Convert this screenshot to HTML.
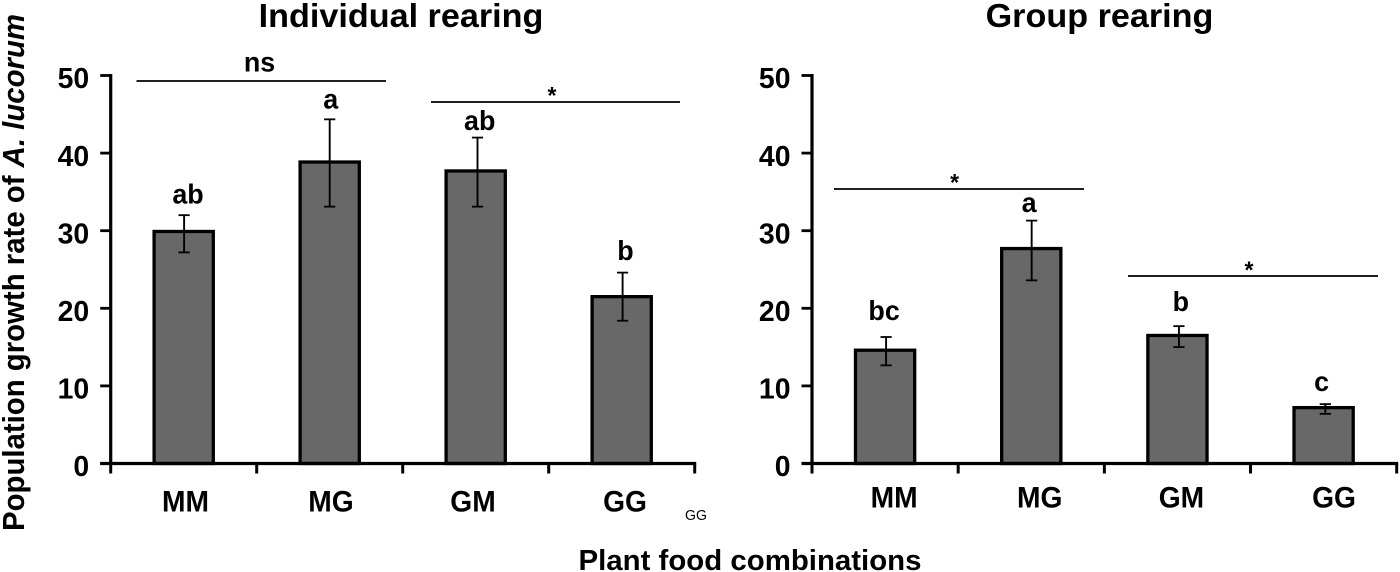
<!DOCTYPE html>
<html lang="en">
<head>
<meta charset="utf-8">
<title>Population growth rate of A. lucorum</title>
<style>
html,body{margin:0;padding:0;background:#fff}
svg{display:block;font-family:"Liberation Sans",Arial,sans-serif;font-weight:bold;fill:#000}
</style>
</head>
<body>
<svg id="chart" width="1400" height="572" viewBox="0 0 1400 572" xmlns="http://www.w3.org/2000/svg">
  <text transform="translate(24,531) rotate(-90)" font-size="31" textLength="517" lengthAdjust="spacingAndGlyphs">Population growth rate of <tspan font-style="italic">A. lucorum</tspan></text>
  <text x="750" y="570" font-size="28.5" text-anchor="middle" textLength="343" lengthAdjust="spacingAndGlyphs">Plant food combinations</text>
  <text x="685" y="520" font-size="15" font-weight="normal" textLength="22" lengthAdjust="spacingAndGlyphs">GG</text>
</svg>
<script>
const categories = ['MM', 'MG', 'GM', 'GG'];
const yTicks = [0, 10, 20, 30, 40, 50];

const individualValues = [29.9, 38.85, 37.7, 21.5];
const individualErrLow = [27.2, 33.1, 33.1, 18.4];
const individualErrHigh = [32.0, 44.35, 42.0, 24.6];
const individualLetters = ['ab', 'a', 'ab', 'b'];

const groupValues = [14.6, 27.7, 16.5, 7.2];
const groupErrLow = [12.65, 23.6, 15.0, 6.4];
const groupErrHigh = [16.3, 31.3, 17.7, 7.65];
const groupLetters = ['bc', 'a', 'b', 'c'];

const NS = 'http://www.w3.org/2000/svg';
const svg = document.getElementById('chart');

function make(tag, attrs, parent, name) {
  const el = document.createElementNS(NS, tag);
  for (const k in attrs) el.setAttribute(k, attrs[k]);
  
  
  parent.appendChild(el);
  return el;
}
function label(parent, name, str, x, y, size, sx) {
  const t = make('text', {
    transform: 'translate(' + x + ',' + y + ') scale(' + sx + ',1)',
    'font-size': size,
    'text-anchor': 'middle'
  }, parent, name);
  t.textContent = str;
  return t;
}

function drawPanel(p) {
  const g = make('g', {}, svg, p.key + '-panel');
  const Y0 = 463.5, YTOP = 75.5;
  const yScale = v => Y0 - (v / 50) * (Y0 - YTOP);
  const slot = (p.xEnd - p.xStart) / categories.length;
  const xCenter = i => p.xStart + slot * (i + 0.5);
  const BW = 59.2;

  label(g, p.key + '-title', p.title, p.titleX, 27, 33.5, 1.02);

  // bars
  p.values.forEach(function (v, i) {
    make('rect', {
      x: xCenter(i) - BW / 2,
      y: yScale(v),
      width: BW,
      height: Y0 - yScale(v),
      fill: '#686868',
      stroke: '#000',
      'stroke-width': 3.3
    }, g, 'bar-' + categories[i].toLowerCase());
  });

  // axes
  make('line', { x1: p.xStart, x2: p.xStart, y1: YTOP - 1.5, y2: Y0 + 1, stroke: '#000', 'stroke-width': 3.2 }, g, p.key + '-y-axis');
  make('line', { x1: p.xStart - 10.5, x2: p.xEnd + 1.5, y1: Y0, y2: Y0, stroke: '#000', 'stroke-width': 3.2 }, g, p.key + '-x-axis');

  yTicks.forEach(function (t) {
    make('line', { x1: p.xStart - 10.5, x2: p.xStart, y1: yScale(t), y2: yScale(t), stroke: '#000', 'stroke-width': 2.8 }, g, p.key + '-y-tick');
    const lbl = label(g, p.key + '-y-label', String(t), p.xStart - 21.5, yScale(t) + 12.7, 29, 0.98);
    lbl.setAttribute('text-anchor', 'end');
  });

  for (let i = 0; i <= categories.length; i++) {
    const x = p.xStart + slot * i;
    make('line', { x1: x, x2: x, y1: Y0, y2: Y0 + 10, stroke: '#000', 'stroke-width': 3 }, g, p.key + '-x-tick');
  }

  // error bars
  p.values.forEach(function (v, i) {
    const x = xCenter(i) + p.errShift[i];
    make('line', { x1: x, x2: x, y1: yScale(p.errLow[i]), y2: yScale(p.errHigh[i]), stroke: '#000', 'stroke-width': 1.9 }, g, 'error-bar');
    make('line', { x1: x - 5.6, x2: x + 5.6, y1: yScale(p.errLow[i]), y2: yScale(p.errLow[i]), stroke: '#000', 'stroke-width': 1.8 }, g, 'error-cap-low');
    make('line', { x1: x - 5.6, x2: x + 5.6, y1: yScale(p.errHigh[i]), y2: yScale(p.errHigh[i]), stroke: '#000', 'stroke-width': 1.8 }, g, 'error-cap-high');
  });

  // significance letters sit above each error bar
  p.letters.forEach(function (s, i) {
    label(g, 'significance-letter', s, xCenter(i) + p.letterShift[i], yScale(p.errHigh[i]) - p.letterGap[i], 28, 0.96);
  });

  // category labels
  categories.forEach(function (c, i) {
    label(g, p.key + '-category-label', c, xCenter(i) + p.catShift[i], p.catY, 30, 0.94);
  });

  // brackets
  p.brackets.forEach(function (b) {
    make('line', { x1: b.x1, x2: b.x2, y1: b.y, y2: b.y, stroke: '#000', 'stroke-width': 1.7 }, g, 'significance-bracket');
    label(g, 'significance-mark', b.mark, b.tx, b.ty, b.size, 0.96);
  });
}

drawPanel({
  key: 'individual', title: 'Individual rearing', titleX: 401,
  xStart: 110.7, xEnd: 694.7,
  errShift: [0.4, 0, 1.8, 0.9], letterShift: [4.3, 1, 4, 3.7], letterGap: [11.7, 11, 7.6, 12.6], catShift: [1.8, 1.3, -2.7, 3.3], catY: 511.5,
  values: individualValues, errLow: individualErrLow, errHigh: individualErrHigh, letters: individualLetters,
  brackets: [
    { x1: 136.5, x2: 386, y: 81, mark: 'ns', tx: 259.5, ty: 71.7, size: 28 },
    { x1: 431, x2: 680, y: 102, mark: '*', tx: 552, ty: 103.5, size: 24 }
  ]
});
drawPanel({
  key: 'group', title: 'Group rearing', titleX: 1099.5,
  xStart: 812, xEnd: 1396.7,
  errShift: [1, 0.4, 1.5, 1.7], letterShift: [-1, -2.2, 3.4, -2], letterGap: [17, 8.6, 15, 13], catShift: [9, 8.5, 4, 10.4], catY: 507.5,
  values: groupValues, errLow: groupErrLow, errHigh: groupErrHigh, letters: groupLetters,
  brackets: [
    { x1: 834, x2: 1084, y: 189, mark: '*', tx: 954.6, ty: 190.5, size: 24 },
    { x1: 1128, x2: 1378, y: 276, mark: '*', tx: 1249, ty: 278, size: 24 }
  ]
});
</script>
</body>
</html>
